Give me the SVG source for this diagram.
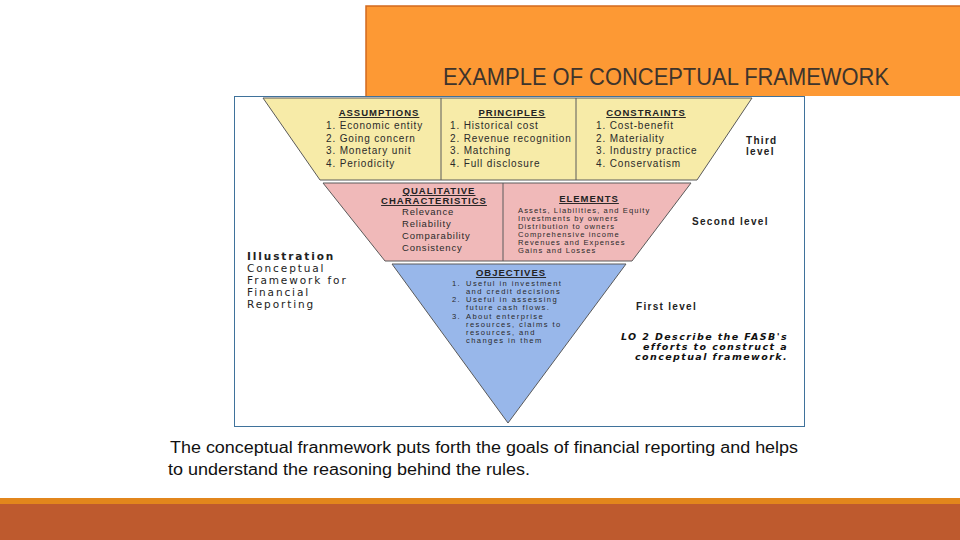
<svg xmlns="http://www.w3.org/2000/svg" width="960" height="540" viewBox="0 0 960 540">
<style>
.t{font-family:"Liberation Sans",Arial,sans-serif;fill:#2a2a2a}
.h{font-family:"Liberation Sans",Arial,sans-serif;font-weight:bold;font-size:9.5px;letter-spacing:1px;text-decoration:underline;fill:#222;text-anchor:middle}
.i{font-size:10px;letter-spacing:0.85px}
.q{font-size:9.5px;letter-spacing:0.8px}
.e{font-size:7.6px;letter-spacing:1.1px}
.o{font-size:7.6px;letter-spacing:1.4px}
.lvl{font-family:"Liberation Sans",Arial,sans-serif;font-weight:bold;font-size:10px;letter-spacing:1.3px;fill:#222}
.ill{font-family:"DejaVu Sans",sans-serif;font-size:10.5px;letter-spacing:1.9px;fill:#222}
.lo{font-family:"DejaVu Sans",sans-serif;font-style:italic;font-weight:bold;font-size:9.5px;letter-spacing:1.4px;fill:#111;text-anchor:end}
.sec{stroke:#5a5a5a;stroke-width:1}
.div{stroke:#5a5a5a;stroke-width:1}
</style>
<rect x="0" y="0" width="960" height="540" fill="#ffffff"/>
<g id="header">
<rect x="366" y="6" width="600" height="90" fill="#FD9934"/>
<path d="M366 96 V6 H960" fill="none" stroke="#D26A1E" stroke-width="1.5"/>
<text x="443" y="85" font-family="Liberation Sans, Arial, sans-serif" font-size="24" fill="#3E342C" textLength="446" lengthAdjust="spacingAndGlyphs">EXAMPLE OF CONCEPTUAL FRAMEWORK</text>
</g>
<g id="frame">
<rect x="234.5" y="96.5" width="570" height="330" fill="#ffffff" stroke="#3F729B" stroke-width="1"/>
</g>
<g id="third-level">
<polygon class="sec" points="263,98 752,98 697,180 320,180" fill="#F7EBA8"/>
<line class="div" x1="441" y1="98" x2="441" y2="180"/>
<line class="div" x1="576" y1="98" x2="576" y2="180"/>
<text class="h" x="379" y="116">ASSUMPTIONS</text>
<text class="t i" x="326" y="129">1.  Economic entity</text>
<text class="t i" x="326" y="142">2.  Going concern</text>
<text class="t i" x="326" y="154">3.  Monetary unit</text>
<text class="t i" x="326" y="167">4.  Periodicity</text>
<text class="h" x="512" y="116">PRINCIPLES</text>
<text class="t i" x="450" y="129">1.  Historical cost</text>
<text class="t i" x="450" y="142">2.  Revenue recognition</text>
<text class="t i" x="450" y="154">3.  Matching</text>
<text class="t i" x="450" y="167">4.  Full disclosure</text>
<text class="h" x="646" y="116">CONSTRAINTS</text>
<text class="t i" x="596" y="129">1.  Cost-benefit</text>
<text class="t i" x="596" y="142">2.  Materiality</text>
<text class="t i" x="596" y="154">3.  Industry practice</text>
<text class="t i" x="596" y="167">4.  Conservatism</text>
</g>
<g id="second-level">
<polygon class="sec" points="323,183 691,183 632,261 385,261" fill="#F0B9B9"/>
<line class="div" x1="503" y1="183" x2="503" y2="261"/>
<text class="h" x="439" y="194">QUALITATIVE</text>
<text class="h" x="434" y="204">CHARACTERISTICS</text>
<text class="t q" x="402" y="215">Relevance</text>
<text class="t q" x="402" y="227">Reliability</text>
<text class="t q" x="402" y="239">Comparability</text>
<text class="t q" x="402" y="251">Consistency</text>
<text class="h" x="589" y="202">ELEMENTS</text>
<text class="t e" x="518" y="213">Assets, Liabilities, and Equity</text>
<text class="t e" x="518" y="221">Investments by owners</text>
<text class="t e" x="518" y="229">Distribution to owners</text>
<text class="t e" x="518" y="237">Comprehensive income</text>
<text class="t e" x="518" y="245">Revenues and Expenses</text>
<text class="t e" x="518" y="253">Gains and Losses</text>
</g>
<g id="first-level">
<polygon class="sec" points="392,264 626,264 508,423" fill="#98B7EA"/>
<text class="h" x="511" y="276">OBJECTIVES</text>
<text class="t o" x="452" y="286">1.</text>
<text class="t o" x="466" y="286">Useful in investment</text>
<text class="t o" x="466" y="294">and credit decisions</text>
<text class="t o" x="452" y="302">2.</text>
<text class="t o" x="466" y="302">Useful in assessing</text>
<text class="t o" x="466" y="310">future cash flows.</text>
<text class="t o" x="452" y="319">3.</text>
<text class="t o" x="466" y="319">About enterprise</text>
<text class="t o" x="466" y="327">resources, claims to</text>
<text class="t o" x="466" y="335">resources, and</text>
<text class="t o" x="466" y="343">changes in them</text>
</g>
<g id="level-labels">
<text class="lvl" x="746" y="144">Third</text>
<text class="lvl" x="746" y="155">level</text>
<text class="lvl" x="692" y="225">Second level</text>
<text class="lvl" x="636" y="310">First level</text>
</g>
<g id="illustration-label">
<text class="ill" x="247" y="260" font-weight="bold" fill="#1a1a40">Illustration</text>
<text class="ill" x="247" y="272">Conceptual</text>
<text class="ill" x="247" y="284">Framework for</text>
<text class="ill" x="247" y="296">Financial</text>
<text class="ill" x="247" y="308">Reporting</text>
</g>
<g id="lo-note">
<text class="lo" x="788" y="340">LO 2   Describe the FASB's</text>
<text class="lo" x="788" y="350">efforts to construct a</text>
<text class="lo" x="788" y="360">conceptual framework.</text>
</g>
<g id="caption">
<text x="170" y="453" font-family="Liberation Sans, Arial, sans-serif" font-size="16" fill="#111" textLength="628" lengthAdjust="spacingAndGlyphs">The conceptual franmework puts forth the goals of financial reporting and helps</text>
<text x="168" y="475" font-family="Liberation Sans, Arial, sans-serif" font-size="16" fill="#111" textLength="362" lengthAdjust="spacingAndGlyphs">to understand the reasoning behind the rules.</text>
</g>
<g id="footer">
<rect x="0" y="498" width="960" height="6" fill="#E2861C"/>
<rect x="0" y="504" width="960" height="36" fill="#BE5A2E"/>
</g>
</svg>
